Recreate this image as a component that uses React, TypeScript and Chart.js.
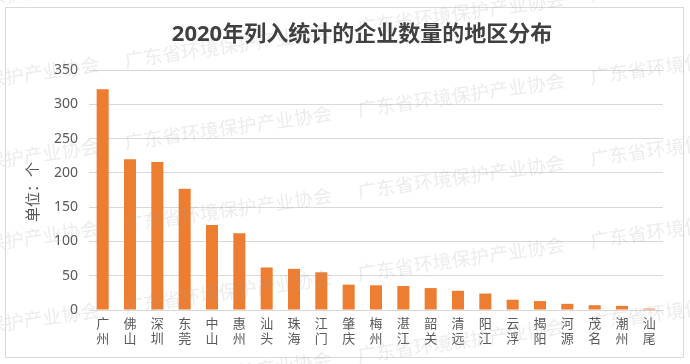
import React, { useEffect, useRef } from "react";
import { Chart, registerables } from "chart.js";
Chart.register(...registerables);

const regions = ["广州","佛山","深圳","东莞","中山","惠州","汕头","珠海","江门","肇庆","梅州","湛江","韶关","清远","阳江","云浮","揭阳","河源","茂名","潮州","汕尾"];
const counts = [322, 220, 216, 177, 124, 112, 62, 60, 55, 37, 36, 35, 32, 28, 24, 15, 13, 9, 7, 6, 2];
const titleText = "2020年列入统计的企业数量的地区分布";
const yAxisTitle = "单位：个";
const watermark = "广东省环境保护产业协会";

const FONT = '"Noto Sans", "Noto Sans CJK SC", sans-serif';

const decor = {
  id: "decor",
  beforeDraw(chart: any) {
    const ctx = chart.ctx;
    ctx.save();
    ctx.fillStyle = "#ffffff";
    ctx.fillRect(0, 0, chart.width, chart.height);
    ctx.strokeStyle = "#d9d9d9";
    ctx.lineWidth = 1;
    ctx.strokeRect(5.5, 7.5, 678, 350);
    ctx.restore();
  },
  afterDraw(chart: any) {
    const ctx = chart.ctx;
    ctx.save();
    // faint watermark
    ctx.font = `19px ${FONT}`;
    ctx.fillStyle = "rgba(160,160,160,0.2)";
    ctx.textBaseline = "middle";
    const rot = -0.14;
    for (let r = -1; r < 6; r++) {
      const y0 = r * 82 + 62;
      for (let k = -2; k < 4; k++) {
        const dx = k * 235;
        const x = 125 + dx * Math.cos(rot);
        const y = y0 + dx * Math.sin(rot);
        ctx.save();
        ctx.translate(x, y);
        ctx.rotate(rot);
        ctx.fillText(watermark, 0, 0);
        ctx.restore();
      }
    }
    // title
    ctx.font = `bold 22px ${FONT}`;
    ctx.fillStyle = "#404040";
    ctx.textAlign = "center";
    ctx.textBaseline = "middle";
    ctx.fillText(titleText, 362, 35);
    // y axis title
    ctx.translate(34, 192);
    ctx.rotate(-Math.PI / 2);
    ctx.font = `15px ${FONT}`;
    ctx.fillStyle = "#595959";
    ctx.fillText(yAxisTitle, 0, 0);
    ctx.restore();
  },
};

export default function App() {
  const ref = useRef<HTMLCanvasElement>(null);
  useEffect(() => {
    document.body.style.margin = "0";
    const chart = new Chart(ref.current!, {
      type: "bar",
      data: {
        labels: regions.map((r) => r.split("")),
        datasets: [
          {
            data: counts,
            backgroundColor: "#ED7D31",
            barPercentage: 0.44,
            categoryPercentage: 1,
          },
        ],
      },
      options: {
        animation: false,
        responsive: false,
        maintainAspectRatio: false,
        layout: { padding: { left: 0, right: 27, top: 70, bottom: 0 } },
        plugins: {
          legend: { display: false },
          tooltip: { enabled: false },
          title: { display: false },
        },
        scales: {
          x: {
            afterFit: (s: any) => { s.height = 54; },
            grid: { display: false, drawTicks: false },
            border: { display: true, color: "#d9d9d9" },
            ticks: {
              color: "#595959",
              font: { family: FONT, size: 13, lineHeight: 1.15 },
              padding: 7,
              maxRotation: 0,
              autoSkip: false,
            },
          },
          y: {
            min: 0,
            max: 350,
            afterFit: (s: any) => { s.width = 89; },
            grid: { color: "#d9d9d9", drawTicks: false },
            border: { display: false },
            ticks: {
              stepSize: 50,
              color: "#595959",
              font: { family: FONT, size: 14 },
              padding: 11,
            },
          },
        },
      },
      plugins: [decor],
    });
    return () => chart.destroy();
  }, []);
  return <canvas ref={ref} width={690} height={364} style={{ display: "block" }} />;
}
